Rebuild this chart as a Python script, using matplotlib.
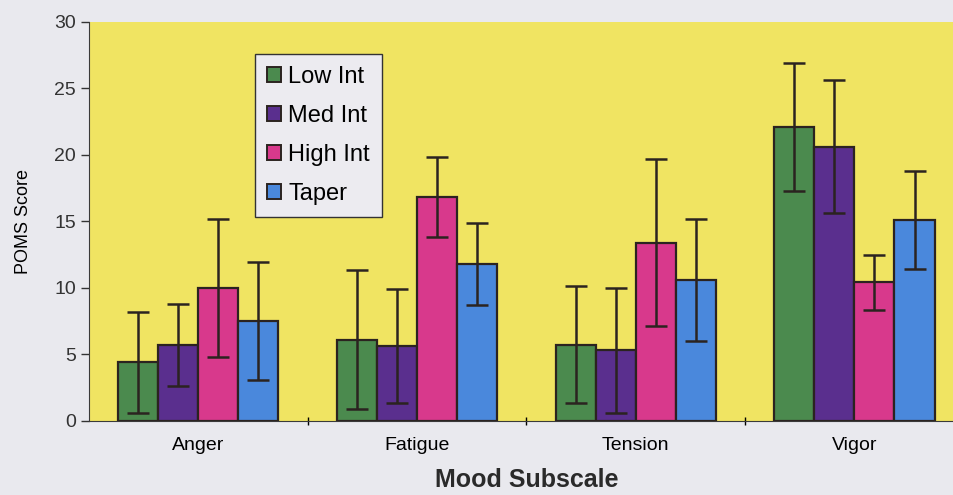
import numpy as np
import matplotlib.pyplot as plt
from matplotlib.patches import Patch

plt.rcParams["font.family"] = ["Liberation Sans", "DejaVu Sans"]

# data
categories = ["Anger", "Fatigue", "Tension", "Vigor"]
groups = ["Low Int", "Med Int", "High Int", "Taper"]

low_int = [4.4, 6.1, 5.7, 22.1]
med_int = [5.7, 5.6, 5.3, 20.6]
high_int = [10.0, 16.8, 13.4, 10.4]
taper = [7.5, 11.8, 10.6, 15.1]

low_sd = [3.8, 5.2, 4.4, 4.8]
med_sd = [3.1, 4.3, 4.7, 5.0]
high_sd = [5.2, 3.0, 6.3, 2.1]
taper_sd = [4.4, 3.1, 4.6, 3.7]

colors = ["#4b8a4e", "#5a2f8e", "#d8398c", "#4a88dc"]

# ==============================
# FIGURE
# ==============================
fig = plt.figure(figsize=(9.54, 4.95), dpi=100)
fig.patch.set_facecolor("#e9e9ee")

ax = fig.add_axes([0.0933, 0.150, 0.917, 0.806])
ax.set_facecolor("#f0e462")

x = np.arange(len(categories))
width = 0.183
means = [low_int, med_int, high_int, taper]
sds = [low_sd, med_sd, high_sd, taper_sd]

for i in range(4):
    pos = x + (i - 1.5) * width
    ax.bar(pos, means[i], width, color=colors[i], edgecolor="#2b2320",
           linewidth=1.6, zorder=2)
    ax.errorbar(pos, means[i], yerr=sds[i], fmt="none", ecolor="#2b2320",
                elinewidth=1.8, capsize=8, capthick=1.8, zorder=3)

ax.set_xlim(-0.5, 3.5)
ax.set_ylim(0, 30)
ax.set_yticks(range(0, 31, 5))
ax.set_xticks(x)
ax.set_xticklabels(categories, fontsize=14)
ax.set_xticks(np.arange(0.5, 3.5, 1), minor=True)
ax.tick_params(axis="x", which="major", length=0, pad=12)
ax.tick_params(axis="x", which="minor", length=6, direction="inout", width=1)
ax.tick_params(axis="y", labelsize=14, length=6, width=1, colors="#333333")

for s in ["top", "right"]:
    ax.spines[s].set_visible(False)
for s in ["left", "bottom"]:
    ax.spines[s].set_color("#3a3a3a")

ax.set_ylabel("POMS Score", fontsize=13, labelpad=16)
ax.set_xlabel("Mood Subscale", fontsize=18, fontweight="bold", labelpad=10,
              color="#2a2a2a")

handles = [Patch(facecolor=colors[i], edgecolor="#2b2320", linewidth=1.4,
                 label=groups[i]) for i in range(4)]
leg = ax.legend(handles=handles, loc="upper left",
                bbox_to_anchor=(0.19, 0.918), fontsize=17, frameon=True,
                fancybox=False, edgecolor="#333333", handlelength=0.6,
                handleheight=0.6, handletextpad=0.3, labelspacing=0.72,
                borderpad=0.5, borderaxespad=0)
leg.get_frame().set_facecolor("#ecebf0")
leg.get_frame().set_alpha(1)

fig.savefig("out.png", dpi=100, facecolor=fig.get_facecolor())
